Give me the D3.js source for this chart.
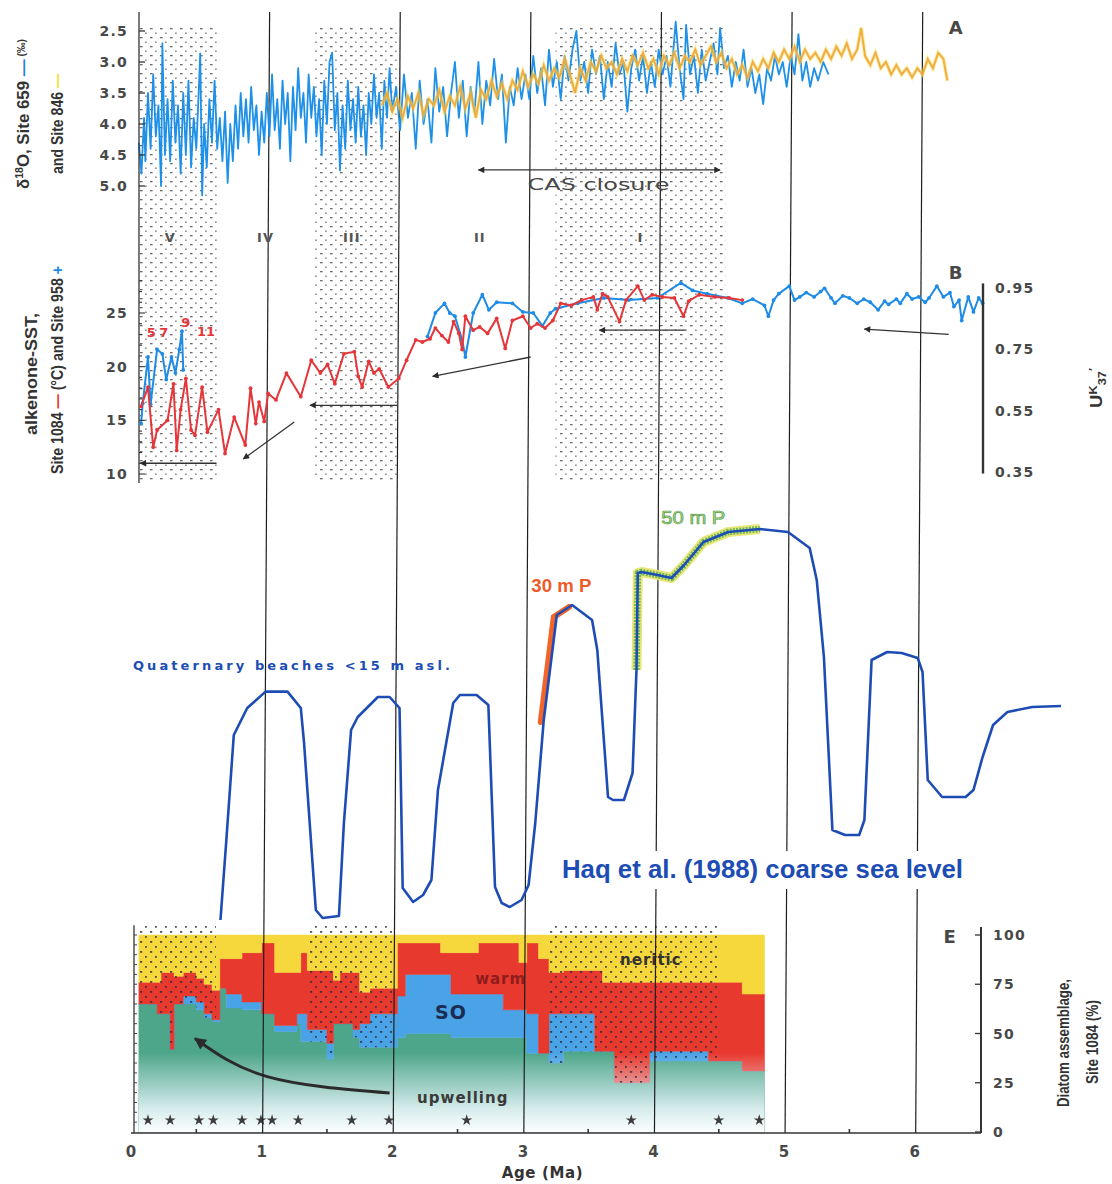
<!DOCTYPE html>
<html><head><meta charset="utf-8">
<script src="https://cdn.jsdelivr.net/npm/d3@7"></script>
<style>body{margin:0;background:#fff}svg{display:block}</style>
</head><body>
<svg id="c" width="1112" height="1184"></svg>
<script>
// ---------------- DATA ----------------
// Panel A: delta18O (per mil), Site 659 [age Ma, value]
const d18O_659 = [[0.06,4.3],[0.08,4.8],[0.10,3.9],[0.11,4.6],[0.13,3.5],[0.15,4.4],[0.17,3.2],[0.19,4.2],[0.21,3.7],[0.23,5.0],[0.24,2.7],[0.26,4.5],[0.28,3.6],[0.30,4.6],[0.32,3.3],[0.34,4.3],[0.36,3.7],[0.38,4.8],[0.40,3.5],[0.42,4.5],[0.44,3.3],[0.46,4.7],[0.48,3.9],[0.50,4.4],[0.52,3.4],[0.53,2.86],[0.545,5.15],[0.56,4.0],[0.58,4.7],[0.60,3.6],[0.62,4.3],[0.64,3.3],[0.66,4.4],[0.68,3.9],[0.70,4.6],
[0.72,3.8],[0.74,4.95],[0.76,4.0],[0.78,4.6],[0.80,3.7],[0.82,4.4],[0.84,3.5],[0.86,4.2],[0.88,3.6],[0.90,4.3],[0.92,3.4],[0.94,4.1],[0.96,3.7],[0.98,4.5],[1.00,3.8],
[1.02,4.3],[1.04,3.5],[1.06,4.2],[1.08,3.2],[1.10,4.1],[1.12,3.6],[1.14,4.4],[1.16,3.3],[1.18,4.0],[1.20,3.5],[1.22,4.6],[1.24,3.4],[1.26,4.1],[1.28,3.1],[1.30,3.9],[1.32,3.5],[1.34,4.3],[1.36,3.2],[1.38,3.9],[1.40,3.4],
[1.42,4.2],[1.44,3.6],[1.46,4.5],[1.48,3.3],[1.50,4.0],[1.52,3.0],[1.54,2.85],[1.56,4.1],[1.58,3.5],[1.60,4.75],[1.62,3.7],[1.64,4.4],[1.66,3.3],[1.68,4.1],[1.70,3.6],[1.72,4.3],[1.74,3.4],[1.76,4.2],[1.78,3.7],[1.80,4.5],[1.82,3.5],[1.84,4.0],[1.86,3.2],[1.88,3.9],[1.90,3.5],[1.92,4.4],[1.94,3.3],[1.96,3.9],[1.98,3.1],[2.00,3.8],
[2.03,3.4],[2.06,4.1],[2.09,3.2],[2.12,3.9],[2.15,3.5],[2.18,4.4],[2.21,3.3],[2.24,4.0],[2.27,3.6],[2.30,4.3],[2.33,3.1],[2.36,3.8],[2.39,3.4],[2.42,4.2],[2.45,3.5],[2.48,3.0],[2.51,3.9],
[2.54,3.3],[2.57,4.2],[2.60,3.4],[2.63,3.8],[2.66,3.0],[2.69,4.0],[2.72,3.3],[2.75,3.7],[2.78,2.95],[2.81,3.6],[2.84,3.2],[2.87,4.3],[2.90,3.4],[2.93,3.7],[2.96,3.1],[2.99,3.6],
[3.02,3.2],[3.05,3.6],[3.08,2.9],[3.11,3.5],[3.14,3.1],[3.17,3.7],[3.20,2.8],[3.23,3.4],[3.26,3.0],[3.29,3.6],[3.32,2.9],[3.35,3.3],[3.38,2.8],[3.41,2.5],[3.44,3.3],[3.47,3.0],[3.50,3.5],
[3.53,2.8],[3.56,3.2],[3.59,2.9],[3.62,3.6],[3.65,3.0],[3.68,3.4],[3.71,2.7],[3.74,3.2],[3.77,3.0],[3.80,3.8],[3.83,3.1],[3.86,2.8],[3.89,3.3],[3.92,2.9],[3.95,3.5],[3.98,3.0],[4.01,3.4],[4.04,2.8],[4.07,3.2],[4.10,2.9],[4.13,3.4],[4.17,2.35],[4.20,3.1],[4.23,3.6],[4.25,2.4],[4.28,3.2],[4.31,2.9],[4.34,3.5],[4.37,2.8],[4.40,3.3],[4.43,3.0],[4.46,2.7],[4.49,3.2],[4.51,2.45],[4.54,3.1],
[4.57,2.9],[4.60,3.4],[4.63,3.0],[4.66,3.3],[4.69,2.8],[4.72,3.4],[4.75,3.1],[4.78,3.5],[4.81,3.2],[4.84,3.68],[4.87,3.1],[4.90,3.3],[4.93,2.9],[4.96,3.2],[4.99,3.0],[5.02,3.4],[5.05,2.9],[5.08,3.2],[5.11,2.55],[5.14,3.3],[5.17,3.0],[5.20,3.4],[5.23,3.1],[5.26,3.3],[5.30,3.0],[5.34,3.2]];

// Panel A: delta18O, Site 846
const d18O_846 = [[1.92,3.7],[1.96,3.5],[2.00,3.8],[2.04,3.6],[2.08,3.9],[2.12,3.55],[2.16,3.75],[2.20,3.5],[2.24,3.85],[2.28,3.6],[2.32,3.7],[2.36,3.45],[2.40,3.8],[2.44,3.55],[2.48,3.7],[2.52,3.4],[2.56,3.75],[2.60,3.5],[2.64,3.9],[2.68,3.45],[2.72,3.6],[2.76,3.3],[2.80,3.55],[2.84,3.35],[2.88,3.6],[2.92,3.3],[2.96,3.45],[3.00,3.15],[3.04,3.4],[3.08,3.2],[3.12,3.35],[3.16,3.05],[3.20,3.3],[3.24,3.1],[3.28,3.25],[3.32,2.95],[3.36,3.2],[3.40,3.5],[3.44,3.1],[3.48,3.3],[3.52,3.0],[3.56,3.15],[3.60,2.9],[3.64,3.1],[3.68,3.0],[3.72,3.2],[3.76,2.95],[3.80,3.15],[3.84,2.9],[3.88,3.05],[3.92,2.85],[3.96,3.1],[4.00,2.95],[4.04,3.2],[4.08,2.9],[4.12,3.05],[4.16,2.85],[4.20,3.1],[4.24,2.9],[4.28,3.0],[4.32,2.8],[4.36,3.05],[4.40,2.9],[4.44,2.75],[4.48,3.0],[4.52,2.85],[4.56,3.1],[4.60,2.95],[4.64,3.2],[4.68,3.05],[4.72,3.25],[4.76,3.0],[4.80,3.15],[4.84,2.95],[4.88,3.1],[4.92,2.85],[4.96,3.0],[5.00,2.8],[5.04,2.95],[5.08,2.75],[5.12,3.0],[5.16,2.8],[5.20,2.95],[5.24,2.85],[5.28,3.0],[5.32,2.8],[5.36,2.95],[5.40,2.75],[5.44,2.9],[5.48,2.7],[5.52,2.95],[5.56,2.8],[5.59,2.45],[5.62,2.9],[5.66,3.05],[5.70,2.85],[5.74,3.1],[5.78,3.0],[5.82,3.2],[5.86,3.05],[5.90,3.2],[5.94,3.1],[5.98,3.25],[6.02,3.1],[6.06,3.2],[6.10,2.95],[6.14,3.1],[6.18,2.85],[6.22,2.95],[6.25,3.3]];

// Panel B: alkenone SST (deg C), Site 1084
const sst1084 = [[0.077,16.3],[0.13,18.1],[0.17,12.5],[0.20,14.1],[0.28,15.0],[0.325,18.4],[0.35,12.2],[0.38,16.0],[0.42,18.9],[0.46,14.1],[0.49,13.6],[0.545,18.1],[0.585,13.9],[0.67,16.0],[0.72,11.9],[0.79,15.3],[0.875,12.7],[0.915,18.0],[0.955,14.7],[0.98,16.7],[1.02,14.9],[1.05,17.5],[1.11,16.9],[1.19,19.4],[1.30,17.2],[1.38,20.6],[1.45,19.4],[1.505,20.2],[1.56,18.4],[1.63,21.2],[1.71,21.4],[1.74,19.1],[1.77,18.1],[1.82,20.5],[1.86,19.4],[1.90,19.8],[1.97,18.1],[2.05,18.9],[2.11,20.6],[2.18,22.5],[2.23,22.3],[2.29,22.6],[2.33,23.6],[2.38,22.9],[2.43,22.3],[2.47,24.2],[2.51,23.1],[2.535,21.6],[2.56,24.7],[2.62,23.4],[2.67,23.7],[2.73,23.1],[2.80,24.5],[2.865,21.7],[2.92,24.3],[3.00,24.7],[3.06,23.6],[3.11,24.0],[3.17,23.6],[3.23,24.3],[3.29,25.9],[3.37,25.7],[3.45,26.2],[3.54,26.5],[3.57,25.3],[3.61,26.8],[3.65,26.5],[3.74,24.2],[3.79,26.2],[3.88,27.5],[3.93,26.2],[3.99,26.7],[4.07,26.5],[4.16,26.4],[4.23,24.7],[4.27,26.1],[4.35,26.7],[4.47,26.5],[4.58,26.4],[4.68,26.2]];

// Panel B: alkenone SST, Site 958 (two segments)
const sst958young = [[0.077,14.7],[0.09,16.6],[0.13,20.9],[0.15,16.5],[0.20,21.6],[0.24,21.2],[0.27,18.8],[0.31,20.9],[0.34,19.4],[0.37,21.6],[0.39,23.3],[0.40,19.7]];
const sst958old = [[2.27,22.8],[2.33,25.0],[2.40,25.9],[2.44,25.0],[2.48,24.7],[2.535,22.5],[2.56,20.9],[2.62,25.0],[2.69,26.7],[2.74,25.3],[2.80,26.0],[2.92,25.9],[3.00,25.1],[3.08,25.0],[3.15,23.8],[3.21,25.0],[3.25,25.4],[3.42,25.9],[3.62,26.4],[3.81,26.2],[4.03,26.4],[4.21,27.8],[4.30,27.1],[4.41,26.8],[4.57,26.4],[4.68,25.9],[4.76,26.3],[4.85,25.7],[4.88,24.7],[4.92,26.2],[4.96,26.8],[5.04,27.5],[5.08,26.2],[5.12,26.5],[5.17,26.9],[5.23,26.5],[5.28,27.0],[5.31,27.3],[5.36,26.4],[5.39,25.9],[5.45,26.6],[5.50,26.4],[5.56,25.9],[5.61,26.3],[5.66,26.0],[5.72,25.3],[5.77,26.1],[5.80,25.8],[5.86,26.3],[5.89,25.9],[5.94,26.8],[5.98,26.3],[6.03,26.5],[6.08,26.0],[6.11,26.4],[6.17,27.5],[6.22,26.5],[6.27,26.9],[6.30,25.6],[6.34,26.2],[6.36,24.3],[6.41,26.5],[6.45,25.1],[6.49,26.4],[6.52,25.9]];

// Haq et al. (1988) coarse sea level, relative units [age Ma, level]
const seaLevel = [[0.685,2.5],[0.73,22.5],[0.787,48.75],[0.89,55.5],[1.03,59.6],[1.198,59.6],[1.30,55.5],[1.325,46.75],[1.415,5],[1.467,3],[1.592,3.5],[1.63,26.75],[1.685,50],[1.736,53.25],[1.89,58.25],[1.98,58.25],[2.056,55.5],[2.08,10.5],[2.16,7],[2.236,8.75],[2.30,12.5],[2.35,35],[2.467,56.75],[2.518,58.75],[2.646,58.75],[2.736,56.25],[2.787,10.75],[2.838,6.75],[2.90,5.75],[2.99,7.5],[3.044,11.25],[3.095,26.75],[3.16,52.5],[3.26,78.75],[3.377,81.25],[3.53,77.5],[3.57,70],[3.652,33.25],[3.69,32.5],[3.774,32.5],[3.84,39.25],[3.87,65],[3.88,89.25],[3.91,89.5],[4.03,88.75],[4.138,88],[4.235,91.25],[4.383,97],[4.573,99.5],[4.815,100.25],[5.03,99.5],[5.196,95.5],[5.25,87.5],[5.305,68.25],[5.37,25],[5.467,23.75],[5.575,23.75],[5.615,27.5],[5.67,67.5],[5.79,69.5],[5.90,69.25],[6.023,68],[6.06,64.5],[6.10,37.5],[6.21,33.25],[6.39,33.25],[6.45,35],[6.52,43.25],[6.60,51.25],[6.71,54.5],[6.90,55.75],[7.12,56]];
const highlight30m = [3.14, 3.40];
const highlight50m = [3.865, 4.90];

// Panel E: diatom assemblage, Site 1084 (%), step intervals starting at each age
const diatomAge   = [0.06,0.20,0.23,0.30,0.33,0.40,0.50,0.56,0.62,0.68,0.73,0.85,1.00,1.10,1.27,1.30,1.35,1.50,1.55,1.60,1.70,1.75,1.83,2.04,2.10,2.37,2.45,2.66,2.85,2.97,3.03,3.12,3.20,3.31,3.55,3.61,3.70,3.97,4.42,4.68,4.85];
const upwelling   = [65,60,60,42,65,65,62,58,56,73,63,62,60,51,55,46,46,37,55,55,48,43,43,48,50,50,48,48,48,48,40,40,35,41,41,41,25,36,36,31,31];
const southernOcn = [0,0,0,0,0,4,4,2,1,0,7,4,0,3,5,14,6,8,0,0,4,12,17,21,30,30,22,22,14,14,20,0,25,19,0,0,0,5,0,0,0];
const warm        = [11,16,21,39,14,12,12,15,15,15,18,25,36,27,21,31,30,37,22,26,29,16,13,27,16,11,21,26,34,24,36,48,21,22,41,35,51,35,40,39,39];
const neritic     = [24,24,19,19,21,19,22,25,28,12,12,9,4,19,19,9,18,18,23,19,19,29,27,4,4,9,9,4,4,14,4,12,19,18,18,24,24,24,24,30,30];
const starAge = [0.13,0.30,0.52,0.63,0.85,0.995,1.08,1.28,1.69,1.975,2.57,3.83,4.50,4.81];

// ticks & labels
const ageTicks = [0,1,2,3,4,5,6];
const d18Ticks = [2.5,3.0,3.5,4.0,4.5,5.0];
const sstTicks = [10,15,20,25];
const ukTicks = [0.95,0.75,0.55,0.35];
const pctTicks = [0,25,50,75,100];
const romanZones = ["V","IV","III","II","I"];
const romanAge = [0.30,1.03,1.69,2.67,3.90];
const stippleAB = [[0.06,0.66],[1.40,2.05],[3.25,4.55]];
const stippleE = [[0.04,0.65],[1.35,2.00],[3.20,4.50]];
const misLabels = ["5","7","9","11"], misAge = [0.155,0.25,0.42,0.575], misSST = [22.8,22.8,23.7,22.9];

// ---------------- SCALES ----------------
const svg = d3.select("#c");
const x = d3.scaleLinear().domain([0,6.5]).range([131,980]);
const yA = d3.scaleLinear().domain([2.5,5.0]).range([31,186]);
const yB = d3.scaleLinear().domain([10,25]).range([474,313]);
const yUK = d3.scaleLinear().domain([0.35,0.95]).range([472,288]);
const yC = d3.scaleLinear().domain([0,100]).range([930,530]);
const yE = d3.scaleLinear().domain([0,100]).range([1132,935]);
const TILT = 8; // scan skew of vertical lines (px at top)

const tickFont = "'DejaVu Sans', Verdana, sans-serif";
const narrow = "'Liberation Sans', Arial, sans-serif";
const grey = "#484848";

// ---------------- DEFS ----------------
const defs = svg.append("defs");
const pat = defs.append("pattern").attr("id","stip").attr("patternUnits","userSpaceOnUse")
  .attr("width",10).attr("height",9);
pat.append("rect").attr("x",0).attr("y",1).attr("width",2.6).attr("height",1.3).attr("fill","#3a3a3a");
pat.append("rect").attr("x",5.2).attr("y",5.5).attr("width",1.4).attr("height",1.4).attr("fill","#3a3a3a");
const patE = defs.append("pattern").attr("id","stipE").attr("patternUnits","userSpaceOnUse")
  .attr("width",10).attr("height",10);
patE.append("rect").attr("x",0).attr("y",1).attr("width",2.2).attr("height",1.8).attr("fill","#2a2a3a");
patE.append("rect").attr("x",5).attr("y",6).attr("width",1.8).attr("height",1.8).attr("fill","#2a2a3a");

function marker(id, w, h){
  defs.append("marker").attr("id",id).attr("viewBox","0 0 10 10").attr("refX",9).attr("refY",5)
    .attr("markerWidth",w).attr("markerHeight",h).attr("orient","auto-start-reverse")
    .append("path").attr("d","M0,0 L10,5 L0,10 Z").attr("fill","#2b2b2b");
}
marker("arr",7,5); marker("arrBig",4.5,4);

const grad = defs.append("linearGradient").attr("id","fade").attr("x1",0).attr("y1",0).attr("x2",0).attr("y2",1);
grad.append("stop").attr("offset",0).attr("stop-color","#eef7fb").attr("stop-opacity",0);
grad.append("stop").attr("offset",0.35).attr("stop-color","#e4f2f9").attr("stop-opacity",0.45);
grad.append("stop").attr("offset",0.7).attr("stop-color","#eef8fc").attr("stop-opacity",0.85);
grad.append("stop").attr("offset",1).attr("stop-color","#fcfeff").attr("stop-opacity",1);

// ---------------- STIPPLE ZONES A/B ----------------
svg.append("g").selectAll("rect").data(stippleAB).join("rect")
  .attr("x",d=>x(d[0])).attr("width",d=>x(d[1])-x(d[0]))
  .attr("y",yA(2.45)).attr("height",482-yA(2.45))
  .attr("fill","url(#stip)").attr("opacity",0.75);

// ---------------- PANEL E : stacked diatoms ----------------
const rows = diatomAge.map((a,i)=>({age:a, upwelling:upwelling[i], so:southernOcn[i], warm:warm[i], neritic:neritic[i]}));
const keys = ["upwelling","so","warm","neritic"];
const colors = {upwelling:"#4ea68a", so:"#4aa3e6", warm:"#e8392f", neritic:"#f6d83c"};
const series = d3.stack().keys(keys)(rows);
const areaE = d3.area().curve(d3.curveStepAfter).x(d=>x(d.data.age)).y0(d=>yE(d[0])).y1(d=>yE(d[1]));
const gE = svg.append("g");
gE.selectAll("path.lay").data(series).join("path").attr("class","lay")
  .attr("d",areaE).attr("fill",d=>colors[d.key]).attr("stroke",d=>colors[d.key]).attr("stroke-width",0.5);
// fade toward bottom
gE.append("rect").attr("x",x(diatomAge[0])).attr("width",x(diatomAge[diatomAge.length-1])-x(diatomAge[0]))
  .attr("y",yE(40)).attr("height",yE(0)-yE(40)).attr("fill","url(#fade)");
// stipple above upwelling, clipped
const clip = defs.append("clipPath").attr("id","aboveGreen");
clip.append("path").attr("d", d3.area().curve(d3.curveStepAfter).x(d=>x(d.age)).y0(d=>yE(d.upwelling)).y1(yE(106))(rows));
gE.append("g").attr("clip-path","url(#aboveGreen)").selectAll("rect").data(stippleE).join("rect")
  .attr("x",d=>x(d[0])).attr("width",d=>x(d[1])-x(d[0])).attr("y",yE(106)).attr("height",yE(0)-yE(106))
  .attr("fill","url(#stipE)").attr("opacity",0.8);
// stars
gE.selectAll("path.star").data(starAge).join("path").attr("class","star")
  .attr("transform",d=>`translate(${x(d)},${yE(6)})`)
  .attr("d",d3.symbol(d3.symbolStar,38)).attr("fill","#3c3c3c");
// labels in E
const eLab = [["neritic",3.98,85,"#333",15,"bold"],["warm",2.83,75,"#8f1c1c",15,"bold"],["SO",2.45,57.5,"#1c2b52",19,"bold"],["upwelling",2.54,14.5,"#3a3a3a",15,"bold"]];
gE.selectAll("text").data(eLab).join("text").attr("x",d=>x(d[1])).attr("y",d=>yE(d[2]))
  .attr("text-anchor","middle").attr("font-family",tickFont).attr("font-weight",d=>d[5]).attr("font-size",d=>d[4])
  .attr("letter-spacing",1).attr("fill",d=>d[3]).text(d=>d[0]);
// curved arrow
const arrowE = [[1.98,19.8],[1.05,28],[0.49,47.5]];
gE.append("path").attr("d", d3.line().curve(d3.curveNatural).x(d=>x(d[0])).y(d=>yE(d[1]))(arrowE))
  .attr("fill","none").attr("stroke","#2b2b2b").attr("stroke-width",3).attr("marker-end","url(#arrBig)");

// ---------------- VERTICAL AGE LINES ----------------
svg.append("g").selectAll("line").data(ageTicks.filter(d=>d>0)).join("line")
  .attr("x1",d=>x(d)+TILT).attr("y1",12).attr("x2",d=>x(d)+1).attr("y2",yE(0)+1)
  .attr("stroke","#1e1e1e").attr("stroke-width",1.2);

// ---------------- SEA LEVEL ----------------
const lineC = d3.line().x(d=>x(d[0])).y(d=>yC(d[1]));
const h50 = seaLevel.filter(d=>d[0]>=highlight50m[0] && d[0]<=highlight50m[1]);
const h30 = seaLevel.filter(d=>d[0]>=highlight30m[0] && d[0]<=highlight30m[1]);
svg.append("path").attr("d",lineC(h50)).attr("fill","none").attr("stroke","#e8e46a").attr("stroke-width",10).attr("stroke-linejoin","round").attr("opacity",0.9);
svg.append("path").attr("d",lineC(h50)).attr("fill","none").attr("stroke","#72b85c").attr("stroke-width",6.5).attr("stroke-linejoin","round").attr("stroke-dasharray","2,1.2");
svg.append("path").attr("d",lineC(h30)).attr("transform","translate(-3,2)").attr("fill","none").attr("stroke","#f2642a").attr("stroke-width",6).attr("stroke-linecap","round");
svg.append("path").attr("d",lineC(seaLevel)).attr("fill","none").attr("stroke","#1d4db4").attr("stroke-width",2.6).attr("stroke-linejoin","round");

svg.append("text").attr("x",x(3.065)).attr("y",yC(84.5)).attr("font-family",narrow).attr("font-weight","bold")
  .attr("font-size",18).attr("fill","#f05a28").attr("textLength",60).attr("lengthAdjust","spacingAndGlyphs").text("30 m P");
svg.append("text").attr("x",x(4.06)).attr("y",yC(101.5)).attr("font-family",narrow)
  .attr("font-size",18).attr("fill","#a6dc8e").attr("stroke","#5d9e4a").attr("stroke-width",0.7)
  .attr("textLength",64).attr("lengthAdjust","spacingAndGlyphs").text("50 m P");
svg.append("text").attr("x",x(0.015)).attr("y",yC(65)).attr("font-family",tickFont).attr("font-weight","bold")
  .attr("font-size",13).attr("fill","#1d4db4").attr("textLength",317).attr("lengthAdjust","spacing").text("Quaternary beaches <15 m asl.");
const haq = svg.append("text").attr("x",x(3.3)).attr("y",yC(13)).attr("font-family",narrow).attr("font-weight","bold")
  .attr("font-size",26).attr("fill","#1d4db4").attr("textLength",401).attr("lengthAdjust","spacingAndGlyphs").text("Haq et al. (1988) coarse sea level");
const hb = haq.node().getBBox();
svg.insert("rect", function(){return haq.node();}).attr("x",hb.x).attr("y",hb.y-3).attr("width",hb.width+6).attr("height",hb.height+8).attr("fill","#fff");

// ---------------- PANEL A ----------------
const lineA = d3.line().x(d=>x(d[0])).y(d=>yA(d[1]));
svg.append("path").attr("d",lineA(d18O_659)).attr("fill","none").attr("stroke","#1e90e8").attr("stroke-width",1.8).attr("stroke-linejoin","round");
svg.append("path").attr("d",lineA(d18O_846)).attr("fill","none").attr("stroke","#f7e25a").attr("stroke-width",4).attr("opacity",0.5);
svg.append("path").attr("d",lineA(d18O_846)).attr("fill","none").attr("stroke","#f0a53a").attr("stroke-width",2).attr("opacity",0.9);
// axis A
const axA = svg.append("g");
axA.append("line").attr("x1",x(0)+8).attr("x2",x(0)+8).attr("y1",12).attr("y2",483).attr("stroke","#333").attr("stroke-width",1.3);
axA.selectAll("line.t").data(d18Ticks).join("line").attr("class","t").attr("x1",x(0)+8).attr("x2",x(0)+14)
  .attr("y1",d=>yA(d)).attr("y2",d=>yA(d)).attr("stroke","#333").attr("stroke-width",1.3);
axA.selectAll("text").data(d18Ticks).join("text").attr("x",128).attr("y",d=>yA(d)+5).attr("text-anchor","end")
  .attr("font-family",tickFont).attr("font-weight","bold").attr("font-size",14).attr("letter-spacing",1.2).attr("fill",grey)
  .text(d3.format(".1f"));
// CAS closure
svg.append("line").attr("x1",x(2.66)).attr("x2",x(4.51)).attr("y1",yA(4.74)).attr("y2",yA(4.74))
  .attr("stroke","#333").attr("stroke-width",1.3).attr("marker-start","url(#arr)").attr("marker-end","url(#arr)");
svg.append("text").attr("x",x(3.58)).attr("y",yA(5.07)).attr("text-anchor","middle").attr("font-family",tickFont)
  .attr("font-size",15).attr("fill",grey).attr("textLength",142).attr("lengthAdjust","spacingAndGlyphs").text("CAS closure");
// zone labels
svg.selectAll("text.zone").data(romanZones).join("text").attr("class","zone").attr("x",(d,i)=>x(romanAge[i])).attr("y",242)
  .attr("text-anchor","middle").attr("font-family",tickFont).attr("font-weight","bold").attr("font-size",13)
  .attr("letter-spacing",1).attr("fill","#555").text(d=>d);
svg.append("text").attr("x",x(6.26)).attr("y",yA(2.55)).attr("font-family",tickFont).attr("font-weight","bold").attr("font-size",18).attr("fill",grey).text("A");

// ---------------- PANEL B ----------------
const lineB = d3.line().x(d=>x(d[0])).y(d=>yB(d[1]));
function sstSeries(data,color){
  svg.append("path").attr("d",lineB(data)).attr("fill","none").attr("stroke",color).attr("stroke-width",2).attr("stroke-linejoin","round");
  svg.append("g").selectAll("circle").data(data).join("circle").attr("cx",d=>x(d[0])).attr("cy",d=>yB(d[1])).attr("r",1.9).attr("fill",color);
}
sstSeries(sst958young,"#1e8ce6");
sstSeries(sst958old,"#1e8ce6");
sstSeries(sst1084,"#e5363a");
svg.selectAll("text.mis").data(misLabels).join("text").attr("class","mis").attr("x",(d,i)=>x(misAge[i])).attr("y",(d,i)=>yB(misSST[i]))
  .attr("text-anchor","middle").attr("font-family",tickFont).attr("font-weight","bold").attr("font-size",13).attr("fill","#e5363a").text(d=>d);
// arrows in B
const arrowsB = [[[0.655,11.0],[0.07,11.0]],[[1.25,14.85],[0.86,11.4]],[[2.04,16.4],[1.37,16.4]],[[3.06,20.9],[2.31,19.1]],[[4.245,23.4],[3.585,23.4]],[[6.26,23.0],[5.615,23.5]]];
svg.append("g").selectAll("path").data(arrowsB).join("path").attr("d",d=>lineB(d)).attr("fill","none")
  .attr("stroke","#333").attr("stroke-width",1.3).attr("marker-end","url(#arr)");
// left SST axis
const axB = svg.append("g");
axB.selectAll("line.m").data(d3.range(10,29)).join("line").attr("class","m").attr("x1",x(0)+8).attr("x2",d=>x(0)+(d%5===0?14:11))
  .attr("y1",d=>yB(d)).attr("y2",d=>yB(d)).attr("stroke","#333").attr("stroke-width",1.1);
axB.selectAll("text").data(sstTicks).join("text").attr("x",128).attr("y",d=>yB(d)+5).attr("text-anchor","end")
  .attr("font-family",tickFont).attr("font-weight","bold").attr("font-size",14).attr("letter-spacing",1.2).attr("fill",grey).text(d=>d);
// right UK37 axis
svg.append("line").attr("x1",983).attr("x2",983).attr("y1",yUK(0.965)).attr("y2",yUK(0.345)).attr("stroke","#333").attr("stroke-width",2.4);
svg.selectAll("text.uk").data(ukTicks).join("text").attr("class","uk").attr("x",995).attr("y",d=>yUK(d)+5)
  .attr("font-family",tickFont).attr("font-weight","bold").attr("font-size",14).attr("letter-spacing",1.2).attr("fill",grey).text(d3.format(".2f"));
svg.append("text").attr("x",x(6.26)).attr("y",yB(28.2)).attr("font-family",tickFont).attr("font-weight","bold").attr("font-size",18).attr("fill",grey).text("B");

// ---------------- PANEL E axes ----------------
svg.append("line").attr("x1",x(0)+3).attr("x2",x(0)+3).attr("y1",yE(105)).attr("y2",yE(0)+1).attr("stroke","#333").attr("stroke-width",1.3);
svg.append("g").selectAll("line").data(d3.range(5,101,5)).join("line").attr("x1",x(0)+3).attr("x2",x(0)+6)
  .attr("y1",d=>yE(d)).attr("y2",d=>yE(d)).attr("stroke","#444").attr("stroke-width",1);
svg.append("line").attr("x1",981).attr("x2",981).attr("y1",yE(104)).attr("y2",yE(0)+1).attr("stroke","#333").attr("stroke-width",2);
svg.append("g").selectAll("line").data(pctTicks).join("line").attr("x1",975).attr("x2",981)
  .attr("y1",d=>yE(d)).attr("y2",d=>yE(d)).attr("stroke","#333").attr("stroke-width",1.3);
svg.append("g").selectAll("text").data(pctTicks).join("text").attr("x",993).attr("y",d=>yE(d)+5)
  .attr("font-family",tickFont).attr("font-weight","bold").attr("font-size",14).attr("letter-spacing",1.2).attr("fill",grey).text(d=>d);
svg.append("text").attr("x",x(6.22)).attr("y",yE(96)).attr("font-family",tickFont).attr("font-weight","bold").attr("font-size",18).attr("fill",grey).text("E");

// bottom age axis
svg.append("line").attr("x1",x(0)).attr("x2",x(6.5)+1).attr("y1",yE(0)+1).attr("y2",yE(0)+1).attr("stroke","#333").attr("stroke-width",1.6);
svg.append("g").selectAll("line").data(d3.range(0.5,6.5,1)).join("line").attr("x1",d=>x(d)).attr("x2",d=>x(d))
  .attr("y1",yE(0)+1).attr("y2",yE(0)-3).attr("stroke","#333").attr("stroke-width",1.6);
svg.append("g").selectAll("text").data(ageTicks).join("text").attr("x",d=>x(d)).attr("y",1157).attr("text-anchor","middle")
  .attr("font-family",tickFont).attr("font-weight","bold").attr("font-size",15).attr("fill",grey).text(d=>d);
svg.append("text").attr("x",x(3.15)).attr("y",1178).attr("text-anchor","middle").attr("font-family",tickFont)
  .attr("font-weight","bold").attr("font-size",15).attr("letter-spacing",0.6).attr("fill","#333").text("Age (Ma)");

// ---------------- ROTATED TITLES ----------------
function vtext(bx, cy, len, size, build){
  const t = svg.append("text").attr("transform",`translate(${bx},${cy}) rotate(-90)`).attr("text-anchor","middle")
    .attr("font-family",narrow).attr("font-weight","bold").attr("font-size",size).attr("fill","#333")
    .attr("textLength",len).attr("lengthAdjust","spacingAndGlyphs");
  build(t); return t;
}
vtext(29, 114, 150, 16, t=>{
  t.append("tspan").text("δ");
  t.append("tspan").attr("dy",-6).attr("font-size",10).text("18");
  t.append("tspan").attr("dy",6).text("O, Site 659 ");
  t.append("tspan").attr("fill","#1e7fe0").text("—");
  t.append("tspan").attr("dy",-4).attr("font-size",10).text(" (‰)");
});
vtext(63, 124, 100, 16, t=>{
  t.append("tspan").text("and Site 846 ");
  t.append("tspan").attr("fill","#f5df3a").text("—");
});
vtext(37, 374, 122, 16, t=>{ t.append("tspan").text("alkenone-SST,"); });
vtext(63, 370, 208, 16, t=>{
  t.append("tspan").text("Site 1084 ");
  t.append("tspan").attr("fill","#e5363a").text("—");
  t.append("tspan").text(" (°C) and Site 958 ");
  t.append("tspan").attr("fill","#1e8ce6").text("+");
});
vtext(1102, 388, 40, 16, t=>{
  t.append("tspan").text("U");
  t.append("tspan").attr("dy",-5).attr("font-size",11).text("K");
  t.append("tspan").attr("dy",9).attr("font-size",11).text("37");
  t.append("tspan").attr("dy",-9).attr("font-size",11).text("′");
});
vtext(1069, 1043, 128, 16, t=>{ t.append("tspan").text("Diatom assemblage,"); });
vtext(1098, 1042, 84, 16, t=>{ t.append("tspan").text("Site 1084 (%)"); });
</script>
</body></html>
